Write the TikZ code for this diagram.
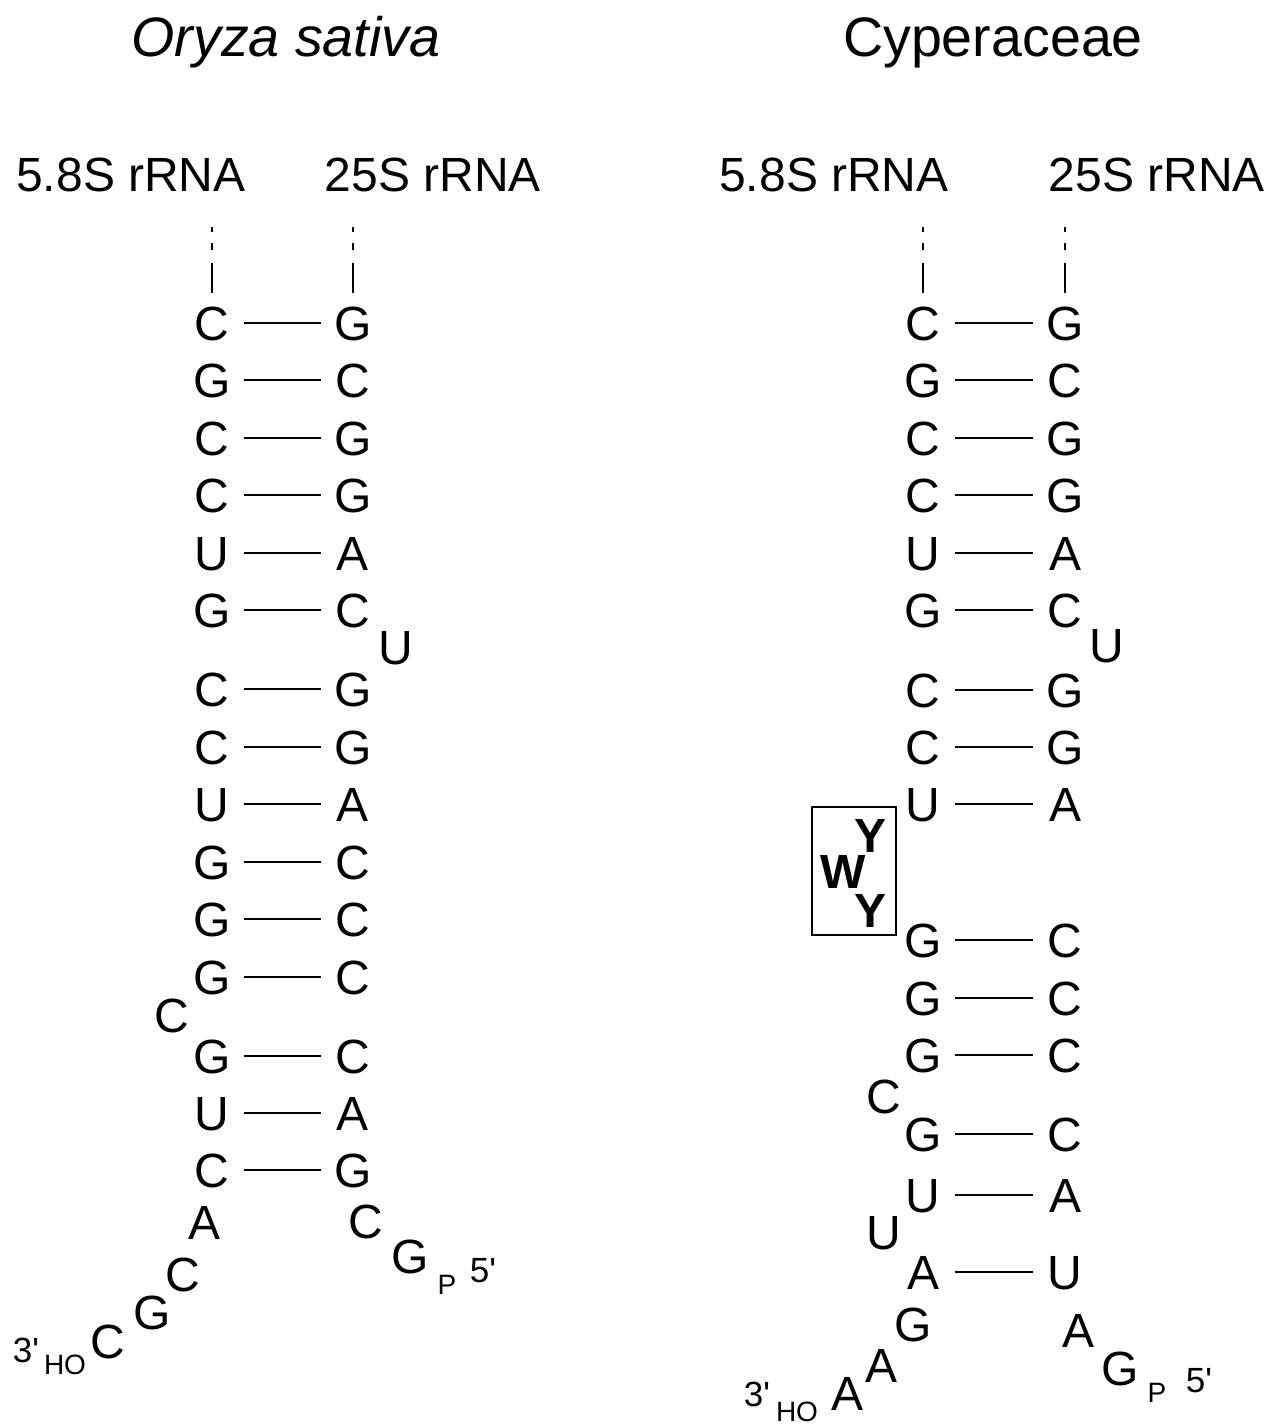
\documentclass[tikz,border=0pt]{standalone}
\usepackage{fontspec}
\setmainfont{Liberation Sans}
\begin{document}
\begin{tikzpicture}[x=1pt,y=-1pt,
  nt/.style={inner sep=0pt, minimum width=63pt, text height=34.4pt, text depth=0pt, font=\fontsize{48}{48}\selectfont},
  ntb/.style={inner sep=0pt, text height=34.4pt, text depth=0pt, font=\fontsize{48}{48}\selectfont\bfseries},
  ttl/.style={inner sep=0pt, text height=39.8pt, text depth=0pt, font=\fontsize{55.6}{56}\selectfont},
  lab/.style={inner sep=0pt, text height=34.4pt, text depth=0pt, font=\fontsize{48}{48}\selectfont},
  subs/.style={inner sep=0pt, text height=20pt, text depth=0pt, font=\fontsize{28}{28}\selectfont},
  prm/.style={inner sep=0pt, text height=25pt, text depth=0pt, font=\fontsize{35}{35}\selectfont},
  pair/.style={line width=2.8pt},
  stub/.style={line width=2.8pt},
  boxst/.style={draw, line width=2pt, inner sep=0pt, minimum width=84pt, minimum height=128pt}]
\useasboundingbox (0,0) rectangle (1276,1425);

% ---------------- Oryza sativa ----------------
\node[ttl] (t1) at (286,37) {\itshape Oryza sativa};
\node[lab] (l58a) at (131,174) {5.8S rRNA};
\node[lab] (l25a) at (433,174) {25S rRNA};
\foreach \xx in {212,353}{
  \draw[stub] (\xx,227) -- (\xx,232);
  \draw[stub] (\xx,243) -- (\xx,250);
  \draw[stub] (\xx,263) -- (\xx,293);
}
\foreach \yy/\aa/\bb [count=\i] in {323/C/G,380/G/C,438/C/G,495/C/G,553/U/A,610/G/C,689/C/G,747/C/G,804/U/A,862/G/C,919/G/C,977/G/C,1056/G/C,1113/U/A,1170/C/G}{
  \node[nt] (la\i) at (212,\yy) {\aa};
  \node[nt] (lb\i) at (353,\yy) {\bb};
  \draw[pair] (la\i) -- (lb\i);
}
\node[nt] (lbu) at (396,647) {U};
\node[nt] (lbc) at (172,1015) {C};
\node[nt] (lt1) at (205,1222) {A};
\node[nt] (lt2) at (183,1274) {C};
\node[nt] (lt3) at (152,1312) {G};
\node[nt] (lt4) at (108,1341) {C};
\node[subs] (lho) at (65,1364) {HO};
\node[prm] (l3p) at (26,1350) {3\textquotesingle};
\node[nt] (lr1) at (366,1221) {C};
\node[nt] (lr2) at (410,1256) {G};
\node[subs] (lp) at (447,1284) {P};
\node[prm] (l5p) at (483,1270) {5\textquotesingle};

% ---------------- Cyperaceae ----------------
\node[ttl] (t2) at (993,37) {Cyperaceae};
\node[lab] (l58b) at (834,174) {5.8S rRNA};
\node[lab] (l25b) at (1157,174) {25S rRNA};
\foreach \xx in {923,1065}{
  \draw[stub] (\xx,227) -- (\xx,232);
  \draw[stub] (\xx,243) -- (\xx,250);
  \draw[stub] (\xx,263) -- (\xx,293);
}
\foreach \yy/\aa/\bb [count=\i] in {323/C/G,380/G/C,438/C/G,495/C/G,553/U/A,610/G/C,690/C/G,747/C/G,804/U/A,940/G/C,998/G/C,1055/G/C,1134/G/C,1195/U/A,1272/A/U}{
  \node[nt] (ra\i) at (923,\yy) {\aa};
  \node[nt] (rb\i) at (1065,\yy) {\bb};
  \draw[pair] (ra\i) -- (rb\i);
}
\node[nt] (rbu) at (1107,645) {U};
\node[boxst] (box) at (854,871) {};
\node[ntb] (ry1) at (870,835) {Y};
\node[ntb] (rw) at (843,871) {W};
\node[ntb] (ry2) at (870,910) {Y};
\node[nt] (rbc) at (884,1096) {C};
\node[nt] (rbu2) at (884,1232) {U};
\node[nt] (rt1) at (913,1324) {G};
\node[nt] (rt2) at (881,1365) {A};
\node[nt] (rt3) at (847,1393) {A};
\node[subs] (rho) at (797,1411) {HO};
\node[prm] (r3p) at (757,1394) {3\textquotesingle};
\node[nt] (rr1) at (1078,1330) {A};
\node[nt] (rr2) at (1120,1368) {G};
\node[subs] (rp) at (1157,1392) {P};
\node[prm] (r5p) at (1199,1380) {5\textquotesingle};
\end{tikzpicture}
\end{document}
